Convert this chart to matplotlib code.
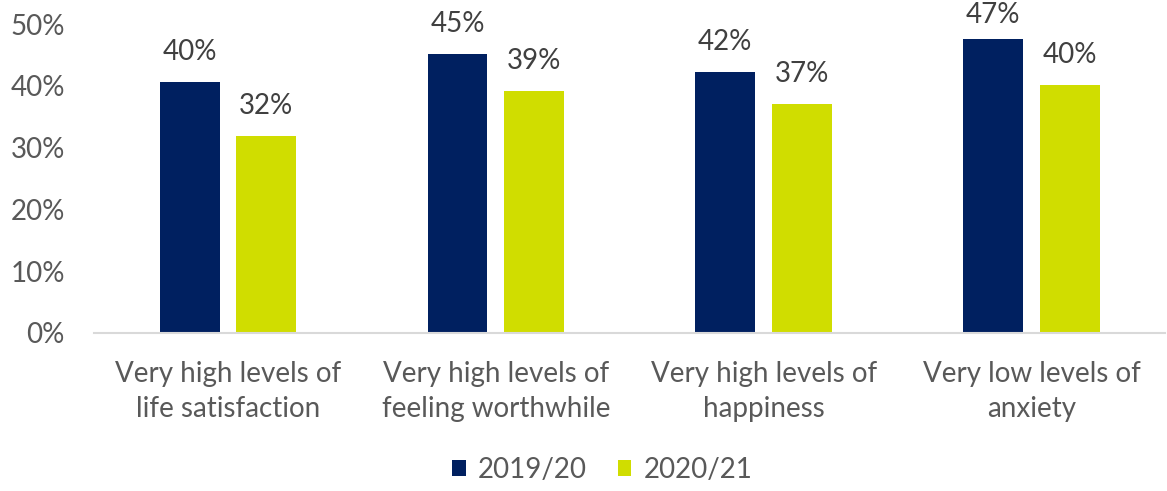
"""Wellbeing measures, 2019/20 vs 2020/21."""
import matplotlib.pyplot as plt
import numpy as np

categories = [
    "Very high levels of\nlife satisfaction",
    "Very high levels of\nfeeling worthwhile",
    "Very high levels of\nhappiness",
    "Very low levels of\nanxiety",
]
series = ["2019/20", "2020/21"]
values_1920 = [0.406, 0.451, 0.423, 0.475]
values_2021 = [0.319, 0.392, 0.371, 0.402]
labels_1920 = ["40%", "45%", "42%", "47%"]
labels_2021 = ["32%", "39%", "37%", "40%"]
yticks = [0, 0.1, 0.2, 0.3, 0.4, 0.5]
ytick_labels = ["0%", "10%", "20%", "30%", "40%", "50%"]

colors = ["#002060", "#D0DD00"]
text_color = "#595959"
label_color = "#404040"

plt.rcParams["font.family"] = ["Lato", "DejaVu Sans"]

fig = plt.figure(figsize=(11.67, 4.91), dpi=100)
ax = fig.add_axes([0.0806, 0.3218, 0.918, 0.6293])

x = np.arange(len(categories))
width = 0.223
offset = (width + 0.063) / 2
label_gap = 0.0486   # ~30 px above the bar top
label_max = 0.514    # keep the highest label inside the figure
for vals, labs, col, name, sign in [
    (values_1920, labels_1920, colors[0], series[0], -1),
    (values_2021, labels_2021, colors[1], series[1], 1),
]:
    bars = ax.bar(x + sign * offset, vals, width, color=col, label=name)
    for b, lab in zip(bars, labs):
        ax.text(b.get_x() + b.get_width() / 2,
                min(b.get_height() + label_gap, label_max), lab,
                ha="center", va="center", fontsize=20, color=label_color,
                clip_on=False)

ax.set_xlim(-0.5, len(categories) - 0.5)
ax.set_ylim(0, 0.5)
ax.set_yticks(yticks)
ax.set_yticklabels(ytick_labels)
ax.set_xticks(x)
ax.set_xticklabels(categories, linespacing=1.45)
ax.tick_params(axis="y", length=0, labelsize=20, labelcolor=text_color, pad=21)
ax.tick_params(axis="x", length=0, labelsize=20, labelcolor=text_color, pad=20)
for s in ["top", "right", "left"]:
    ax.spines[s].set_visible(False)
ax.spines["bottom"].set_color("#D9D9D9")
ax.spines["bottom"].set_linewidth(1.5)

leg = fig.legend(loc="center", bbox_to_anchor=(0.516, 0.043), ncol=2,
                 frameon=False, fontsize=20, handlelength=0.5, handleheight=0.5,
                 handletextpad=0.43, columnspacing=1.1)
for t in leg.get_texts():
    t.set_color(text_color)

fig.savefig("out.png", dpi=100)
